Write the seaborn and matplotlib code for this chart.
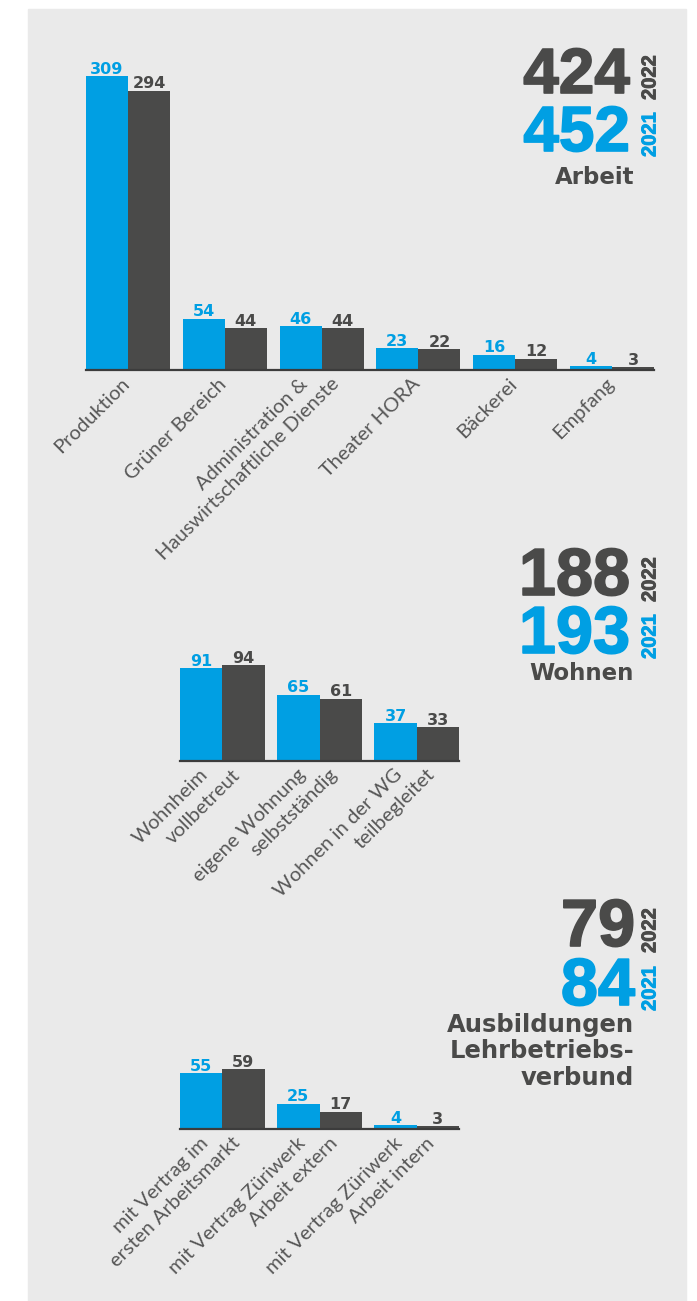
import matplotlib
matplotlib.use("Agg")
import matplotlib.pyplot as plt
import matplotlib.patheffects as pe
import seaborn as sns
import pandas as pd
from matplotlib.patches import Rectangle
from matplotlib.transforms import offset_copy

# ---- data -------------------------------------------------------------
years = ["2021", "2022"]

arbeit_cats = ["Produktion", "Grüner Bereich",
               "Administration &\nHauswirtschaftliche Dienste",
               "Theater HORA", "Bäckerei", "Empfang"]
arbeit_2021 = [309, 54, 46, 23, 16, 4]
arbeit_2022 = [294, 44, 44, 22, 12, 3]
arbeit_totals = {"2022": 424, "2021": 452}

wohnen_cats = ["Wohnheim\nvollbetreut", "eigene Wohnung\nselbstständig",
               "Wohnen in der WG\nteilbegleitet"]
wohnen_2021 = [91, 65, 37]
wohnen_2022 = [94, 61, 33]
wohnen_totals = {"2022": 188, "2021": 193}

ausb_cats = ["mit Vertrag im\nersten Arbeitsmarkt",
             "mit Vertrag Züriwerk\nArbeit extern",
             "mit Vertrag Züriwerk\nArbeit intern"]
ausb_2021 = [55, 25, 4]
ausb_2022 = [59, 17, 3]
ausb_totals = {"2022": 79, "2021": 84}

# ---- style ------------------------------------------------------------
BLUE = "#009fe3"
DARK = "#4a4a49"
PANEL = "#eaeaea"
CAT_GREY = "#575757"

sns.set_style("white")
plt.rcParams["font.family"] = ["DejaVu Sans"]

W, H = 697, 1301
fig = plt.figure(figsize=(W / 100, H / 100), dpi=100)
fig.patch.set_facecolor("white")


def fx(x):
    return x / W


def fy(y):
    return 1 - y / H


def heavy(color, lw=1.2):
    return [pe.withStroke(linewidth=lw, foreground=color)]


# grey card behind the three charts
fig.patches.append(Rectangle((fx(28), 0), fx(686) - fx(28), fy(9),
                             transform=fig.transFigure, color=PANEL,
                             zorder=-5))


def bar_panel(cats, v21, v22, x0, x1, base_y, ymax, px_per_unit):
    h = ymax * px_per_unit
    ax = fig.add_axes([fx(x0), fy(base_y), (x1 - x0) / W, h / H])
    ax.set_zorder(2)
    df = pd.DataFrame({
        "cat": cats * 2,
        "year": [years[0]] * len(cats) + [years[1]] * len(cats),
        "value": list(v21) + list(v22),
    })
    sns.barplot(data=df, x="cat", y="value", hue="year", hue_order=years,
                palette=[BLUE, DARK], width=0.87, saturation=1, linewidth=0,
                errorbar=None, legend=False, ax=ax)
    n = len(cats)
    ax.set_xlim(-0.435, n - 1 + 0.435)
    ax.set_ylim(0, ymax)
    ax.patch.set_visible(False)
    for side in ("top", "right", "left"):
        ax.spines[side].set_visible(False)
    ax.spines["bottom"].set_color("#3c3c3c")
    ax.spines["bottom"].set_linewidth(1.6)
    ax.set_yticks([])
    ax.set_xticks(range(n))
    ax.set_xticklabels([])
    ax.tick_params(length=0)
    ax.set_xlabel("")
    ax.set_ylabel("")

    for cont, col in zip(ax.containers, [BLUE, DARK]):
        ax.bar_label(cont, padding=-0.5, color=col, fontsize=11.5,
                     fontweight="bold", family="DejaVu Sans")

    # rotated category names, each line anchored at its own right end
    base = ax.get_xaxis_transform()
    for i, name in enumerate(cats):
        lines = name.split("\n")
        k = len(lines)
        for j, line in enumerate(lines):
            dx = 3 + (j - (k - 1) / 2) * 32
            tr = offset_copy(base, fig=fig, x=dx, y=-15, units="dots")
            ax.text(i, 0, line, transform=tr, rotation=45,
                    rotation_mode="anchor", ha="right", va="baseline",
                    fontsize=14.5, color=CAT_GREY,
                    family=["Lato", "DejaVu Sans"], fontweight="normal",
                    clip_on=False)
    return ax


def headline(totals, right, y22, y21, label_lines, label_y0, size,
             label_size):
    fig.text(fx(right + 2), fy(y22), str(totals["2022"]), ha="right",
             va="baseline", fontsize=size, fontweight="bold", color=DARK,
             family="Liberation Sans", path_effects=heavy(DARK))
    fig.text(fx(right + 2), fy(y21), str(totals["2021"]), ha="right",
             va="baseline", fontsize=size, fontweight="bold", color=BLUE,
             family="Liberation Sans", path_effects=heavy(BLUE))
    fig.text(fx(650), fy(y22 + 7), "2022", rotation=90, ha="center",
             va="bottom", fontsize=14.5, fontweight="bold", color=DARK,
             family="Liberation Sans", path_effects=heavy(DARK, 0.6))
    fig.text(fx(650), fy(y21 + 6), "2021", rotation=90, ha="center",
             va="bottom", fontsize=14.5, fontweight="bold", color=BLUE,
             family="Liberation Sans", path_effects=heavy(BLUE, 0.6))
    for k, line in enumerate(label_lines):
        fig.text(fx(634), fy(label_y0 + 26.5 * k), line, ha="right",
                 va="baseline", fontsize=label_size, fontweight="bold",
                 color=DARK, family="DejaVu Sans")


bar_panel(arbeit_cats, arbeit_2021, arbeit_2022, 86, 654, 370, 330, 0.95)
bar_panel(wohnen_cats, wohnen_2021, wohnen_2022, 180, 459, 761, 110, 1.02)
bar_panel(ausb_cats, ausb_2021, ausb_2022, 180, 459, 1129, 70, 1.02)

headline(arbeit_totals, 628, 93, 151, ["Arbeit"], 184, 46, 16.5)
headline(wohnen_totals, 628, 595, 653, ["Wohnen"], 680, 48, 16.5)
headline(ausb_totals, 633, 946, 1005,
         ["Ausbildungen", "Lehrbetriebs-", "verbund"], 1032, 48, 17.5)

fig.savefig("out.png", dpi=100)
